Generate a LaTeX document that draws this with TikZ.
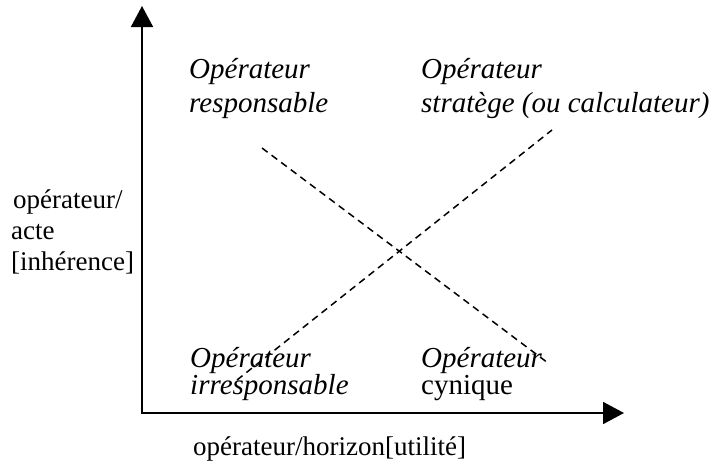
\documentclass[tikz,border=0pt]{standalone}
\usepackage{fontspec}
\setmainfont{Liberation Serif}
\usetikzlibrary{arrows.meta}

\begin{document}
\begin{tikzpicture}
        [x=1pt,y=-1pt,
         axis/.style={line width=1.8pt,line cap=rect,-{Triangle[length=21pt,width=22pt]}},
         cross/.style={line width=1.5pt,dash pattern=on 7pt off 5pt},
         lbl/.style={inner sep=0pt,anchor=base west,align=left,font=\fontsize{27}{31}\selectfont},
         quad/.style={lbl,font=\fontsize{29}{34}\itshape}]
        \useasboundingbox (0,0) rectangle (713,463);

        % axes
        \coordinate (O) at (142,413);
        \coordinate (ytop) at (142,6);
        \coordinate (xend) at (624,413);
        \draw[axis] (O) -- (ytop);
        \draw[axis] (O) -- (xend);

        % the two dashed diagonals
        \coordinate (d1a) at (262,148);
        \coordinate (d1b) at (548,363);
        \coordinate (d2a) at (237,380);
        \coordinate (d2b) at (552,130);
        \draw[cross] (d1a) -- (d1b);
        \draw[cross] (d2a) -- (d2b);

        % quadrants (base = last line)
        \node[quad] (resp) at (189,112) {Opérateur\\responsable};
        \node[quad] (strat) at (421,112) {Opérateur\\stratège (ou calculateur)};
        \node[quad,font=\fontsize{29}{27}\itshape] (irresp) at (190,394) {Opérateur\\irresponsable};
        \node[quad,font=\fontsize{29}{27}\itshape] (cyn) at (421,394) {Opérateur\\\upshape cynique};

        % axis titles
        \node[lbl] (acte) at (11,270) {\hspace*{2pt}opérateur/\\acte\\{}[inhérence]};
        \node[lbl] (horiz) at (193,455) {opérateur/horizon[utilité]};
      \end{tikzpicture}
\end{document}
